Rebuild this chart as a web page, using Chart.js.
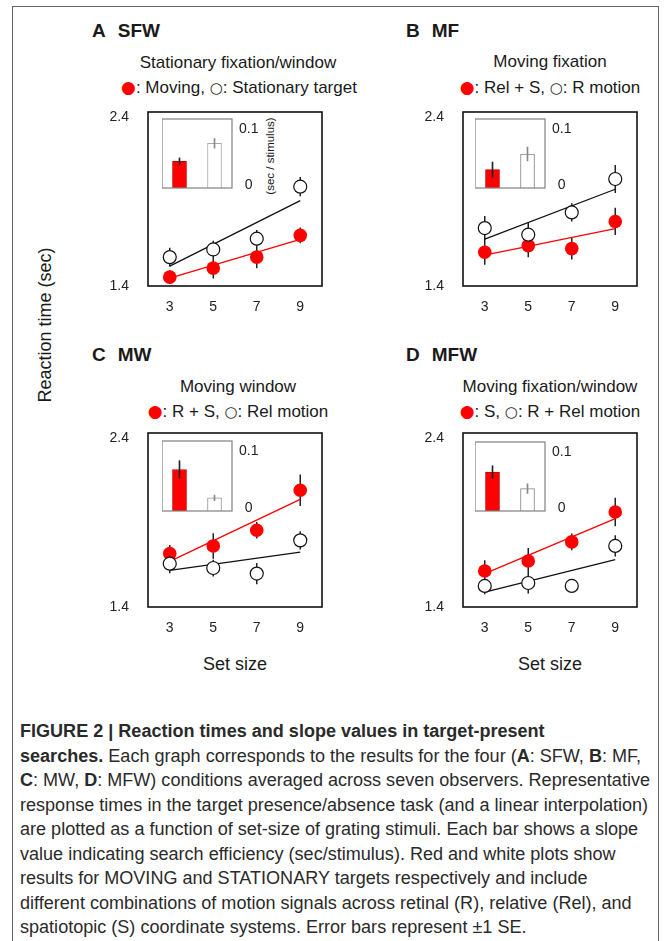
<!DOCTYPE html>
<html><head><meta charset="utf-8">
<script src="https://cdn.jsdelivr.net/npm/chart.js@4.4.1/dist/chart.umd.min.js"></script>
<style>
html,body{margin:0;padding:0;background:#fff;}
body{width:667px;height:941px;position:relative;overflow:hidden;font-family:"Liberation Sans",Arial,Helvetica,sans-serif;color:#1a1a1a;}
#box{position:absolute;left:12px;top:6px;width:647px;height:980px;border:1.5px solid #666;box-sizing:border-box;}
.abs{position:absolute;white-space:nowrap;}
.ptitle{font-weight:bold;font-size:19px;line-height:22px;}
.ptitle .nm{margin-left:12px;}
.sub{font-size:17px;line-height:20px;text-align:center;width:320px;}
.dot{color:#f00;font-family:"DejaVu Sans",sans-serif;font-size:17px;}
.ring{font-family:"DejaVu Sans",sans-serif;font-size:15px;}
.rot{transform:rotate(-90deg);text-align:center;}
canvas{position:absolute;}
#cap{position:absolute;left:20px;top:719px;font-size:17.5px;line-height:24.5px;color:#2a2a2a;transform-origin:0 0;}
#cap div{white-space:nowrap;}
</style>
</head>
<body>
<div id="box"></div>

<div class="abs ptitle" style="left:92px;top:20px;">A<span class="nm">SFW</span></div>
<div class="abs ptitle" style="left:406px;top:20px;">B<span class="nm">MF</span></div>
<div class="abs ptitle" style="left:92px;top:344px;">C<span class="nm">MW</span></div>
<div class="abs ptitle" style="left:406px;top:344px;">D<span class="nm">MFW</span></div>

<div class="abs sub" style="left:78px;top:53px;">Stationary fixation/window</div>
<div class="abs sub" style="left:79px;top:77px;"><span class="dot">●</span>: Moving, <span class="ring">○</span>: Stationary target</div>
<div class="abs sub" style="left:390px;top:52px;">Moving fixation</div>
<div class="abs sub" style="left:390px;top:77px;"><span class="dot">●</span>: Rel + S, <span class="ring">○</span>: R motion</div>
<div class="abs sub" style="left:78px;top:377px;">Moving window</div>
<div class="abs sub" style="left:78px;top:401px;"><span class="dot">●</span>: R + S, <span class="ring">○</span>: Rel motion</div>
<div class="abs sub" style="left:390px;top:377px;">Moving fixation/window</div>
<div class="abs sub" style="left:390px;top:401px;"><span class="dot">●</span>: S, <span class="ring">○</span>: R + Rel motion</div>

<div class="abs rot" style="left:-55px;top:314px;width:200px;height:22px;line-height:22px;font-size:18px;">Reaction time (sec)</div>
<div class="abs" style="left:185px;top:653px;width:100px;text-align:center;font-size:18px;line-height:22px;">Set size</div>
<div class="abs" style="left:500px;top:653px;width:100px;text-align:center;font-size:18px;line-height:22px;">Set size</div>
<div class="abs rot" style="left:220px;top:149px;width:100px;height:14px;line-height:14px;font-size:11.5px;">(sec / stimulus)</div>

<canvas id="mA"></canvas><canvas id="mB"></canvas><canvas id="mC"></canvas><canvas id="mD"></canvas>
<canvas id="iA"></canvas><canvas id="iB"></canvas><canvas id="iC"></canvas><canvas id="iD"></canvas>

<div id="cap">
<div><b>FIGURE 2 | Reaction times and slope values in target-present</b></div>
<div><b>searches.</b> Each graph corresponds to the results for the four (<b>A</b>: SFW, <b>B</b>: MF,</div>
<div><b>C</b>: MW, <b>D</b>: MFW) conditions averaged across seven observers. Representative</div>
<div id="capRef">response times in the target presence/absence task (and a linear interpolation)</div>
<div>are plotted as a function of set-size of grating stimuli. Each bar shows a slope</div>
<div>value indicating search efficiency (sec/stimulus). Red and white plots show</div>
<div>results for MOVING and STATIONARY targets respectively and include</div>
<div>different combinations of motion signals across retinal (R), relative (Rel), and</div>
<div>spatiotopic (S) coordinate systems. Error bars represent ±1 SE.</div>
</div>

<script>
// ---------- data ----------
const setSizes = [3, 5, 7, 9];
const fitEnds = [3, 9];
const yTicks = [1.4, 2.4];
const insetTicks = [0, 0.1];
const insetCats = ['Moving', 'Stationary'];

// A: SFW (red = moving target, open = stationary target)
const A_red = [1.451, 1.503, 1.566, 1.691];
const A_redSE = [0.040, 0.060, 0.064, 0.045];
const A_open = [1.566, 1.610, 1.672, 1.971];
const A_openSE = [0.054, 0.050, 0.050, 0.055];
const A_redFit = [1.445, 1.668];
const A_openFit = [1.514, 1.891];
const A_slope = [0.0386, 0.0647];
const A_slopeSE = [0.005, 0.007];

// B: MF
const B_red = [1.594, 1.632, 1.615, 1.771];
const B_redSE = [0.072, 0.067, 0.063, 0.078];
const B_open = [1.733, 1.695, 1.823, 2.015];
const B_openSE = [0.070, 0.067, 0.052, 0.080];
const B_redFit = [1.577, 1.730];
const B_openFit = [1.670, 1.956];
const B_slope = [0.0266, 0.0493];
const B_slopeSE = [0.011, 0.010];

// C: MW
const C_red = [1.707, 1.751, 1.841, 2.071];
const C_redSE = [0.050, 0.073, 0.048, 0.090];
const C_open = [1.649, 1.624, 1.592, 1.783];
const C_openSE = [0.055, 0.048, 0.061, 0.053];
const C_redFit = [1.662, 2.019];
const C_openFit = [1.611, 1.715];
const C_slope = [0.0593, 0.0187];
const C_slopeSE = [0.0125, 0.004];

// D: MFW
const D_red = [1.607, 1.664, 1.774, 1.946];
const D_redSE = [0.061, 0.075, 0.048, 0.082];
const D_open = [1.521, 1.538, 1.521, 1.751];
const D_openSE = [0.048, 0.061, 0.030, 0.061];
const D_redFit = [1.592, 1.908];
const D_openFit = [1.486, 1.672];
const D_slope = [0.0565, 0.0324];
const D_slopeSE = [0.009, 0.007];

// ---------- layout ----------
const RED = '#ff0000';
const panels = [
  {id:'A', frame:{l:148,t:112,w:174,h:174}, inset:{l:162,t:119,w:70,h:69}, red:A_red, redSE:A_redSE, open:A_open, openSE:A_openSE, redFit:A_redFit, openFit:A_openFit, slope:A_slope, slopeSE:A_slopeSE, whiteEdge:'#aaa'},
  {id:'B', frame:{l:463,t:112,w:174,h:174}, inset:{l:475,t:119,w:70,h:69}, red:B_red, redSE:B_redSE, open:B_open, openSE:B_openSE, redFit:B_redFit, openFit:B_openFit, slope:B_slope, slopeSE:B_slopeSE, whiteEdge:'#888'},
  {id:'C', frame:{l:148,t:433,w:174,h:174}, inset:{l:162,t:441,w:70,h:70}, red:C_red, redSE:C_redSE, open:C_open, openSE:C_openSE, redFit:C_redFit, openFit:C_openFit, slope:C_slope, slopeSE:C_slopeSE, whiteEdge:'#999'},
  {id:'D', frame:{l:463,t:433,w:174,h:174}, inset:{l:475,t:442,w:70,h:69}, red:D_red, redSE:D_redSE, open:D_open, openSE:D_openSE, redFit:D_redFit, openFit:D_openFit, slope:D_slope, slopeSE:D_slopeSE, whiteEdge:'#888'}
];

const framePlugin = {
  id: 'frame',
  afterDraw(chart, args, opts) {
    const a = chart.chartArea, c = chart.ctx;
    c.save();
    c.strokeStyle = opts.color || '#000';
    c.lineWidth = opts.width || 1.5;
    c.strokeRect(a.left, a.top, a.right - a.left, a.bottom - a.top);
    c.restore();
  }
};

function pts(xs, ys) { return xs.map((x, i) => ({x, y: ys[i]})); }
function errs(xs, ys, se) {
  const d = [];
  xs.forEach((x, i) => { d.push({x, y: ys[i] - se[i]}, {x, y: ys[i] + se[i]}, {x, y: null}); });
  return d;
}
function fixSize(prop, val) {
  return s => { s[prop] = val; s.paddingTop = 0; s.paddingBottom = 0; s.paddingLeft = 0; s.paddingRight = 0; };
}

const tickFont = {family: '"Liberation Sans", Arial, sans-serif', size: 14};

panels.forEach(p => {
  const f = p.frame;
  const cv = document.getElementById('m' + p.id);
  cv.width = f.w + 70; cv.height = f.h + 40;
  cv.style.left = (f.l - 60) + 'px'; cv.style.top = (f.t - 10) + 'px';
  // label axis: 2.4 label sits a few px below the frame top, as in the source figure
  const yLblMax = yTicks[1] + 5 / (f.h - 5);
  new Chart(cv, {
    type: 'scatter',
    data: {
      datasets: [
        {data: pts(setSizes, p.open), pointRadius: 6.5, pointBackgroundColor: '#fff', pointBorderColor: '#111', pointBorderWidth: 1.2, showLine: false, order: 0},
        {data: pts(setSizes, p.red), pointRadius: 6.8, pointBackgroundColor: RED, pointBorderColor: RED, pointBorderWidth: 0, showLine: false, order: 1},
        {data: pts(fitEnds, p.openFit), showLine: true, borderColor: '#111', borderWidth: 1.3, pointRadius: 0, order: 2},
        {data: pts(fitEnds, p.redFit), showLine: true, borderColor: RED, borderWidth: 1.3, pointRadius: 0, order: 3},
        {data: errs(setSizes, p.red, p.redSE).concat(errs(setSizes, p.open, p.openSE)), showLine: true, spanGaps: false, borderColor: '#222', borderWidth: 1.5, pointRadius: 0, order: 4}
      ]
    },
    options: {
      responsive: false, animation: false, devicePixelRatio: 1,
      layout: {padding: {left: 0, right: 10, top: 10, bottom: 0}},
      plugins: {legend: {display: false}, tooltip: {enabled: false}, frame: {color: '#111', width: 1.6}},
      scales: {
        x: {type: 'linear', min: 2, max: 10,
            afterBuildTicks: s => { s.ticks = setSizes.map(v => ({value: v})); },
            afterFit: fixSize('height', 30),
            grid: {display: false, drawTicks: false}, border: {display: false},
            ticks: {font: tickFont, color: '#222', padding: 13, maxRotation: 0, autoSkip: false}},
        y: {type: 'linear', display: false, min: yTicks[0], max: yTicks[1]},
        yl: {type: 'linear', position: 'left', min: yTicks[0], max: yLblMax,
            afterBuildTicks: s => { s.ticks = yTicks.map(v => ({value: v})); },
            afterFit: fixSize('width', 60),
            grid: {display: false, drawTicks: false}, border: {display: false},
            ticks: {font: tickFont, color: '#222', padding: 19, callback: v => Number(v).toFixed(1)}}
      }
    },
    plugins: [framePlugin]
  });

  const ins = p.inset;
  const ic = document.getElementById('i' + p.id);
  ic.width = ins.w + 40; ic.height = ins.h + 20;
  ic.style.left = ins.l + 'px'; ic.style.top = (ins.t - 10) + 'px';
  const lblTop = 0.1 + 10 / ((ins.h - 13) / 0.1);
  const lblBot = -3 / ((ins.h - 13) / 0.1);
  new Chart(ic, {
    type: 'bar',
    data: {
      labels: insetCats,
      datasets: [
        {data: p.slope.map((v, i) => [v - p.slopeSE[i], v + p.slopeSE[i]]), backgroundColor: ['#222', '#888'], borderWidth: 0, barThickness: 1, grouped: false, order: 0, yAxisID: 'y'},
        {data: p.slope, backgroundColor: [RED, '#fff'], borderColor: ['#c00000', p.whiteEdge], borderWidth: 1, borderSkipped: 'bottom', barThickness: 14, grouped: false, order: 1, yAxisID: 'y'}
      ]
    },
    options: {
      responsive: false, animation: false, devicePixelRatio: 1,
      layout: {padding: {left: 0, right: 0, top: 10, bottom: 10}},
      plugins: {legend: {display: false}, tooltip: {enabled: false}, frame: {color: '#808080', width: 1.2}},
      scales: {
        x: {display: false},
        y: {display: false, min: 0, max: 0.1},
        yl: {position: 'right', min: lblBot, max: lblTop,
             afterBuildTicks: s => { s.ticks = insetTicks.map(v => ({value: v})); },
             afterFit: fixSize('width', 40),
             grid: {display: false, drawTicks: false}, border: {display: false},
             ticks: {font: tickFont, color: '#222', padding: 7, crossAlign: 'center', callback: v => (v === 0 ? '0' : String(v))}}
      }
    },
    plugins: [framePlugin]
  });
});

// fit caption width
const cap = document.getElementById('cap');
const ref = document.getElementById('capRef');
const w = ref.getBoundingClientRect().width;
cap.style.transform = 'scaleX(' + (630 / w) + ')';
</script>
</body></html>
